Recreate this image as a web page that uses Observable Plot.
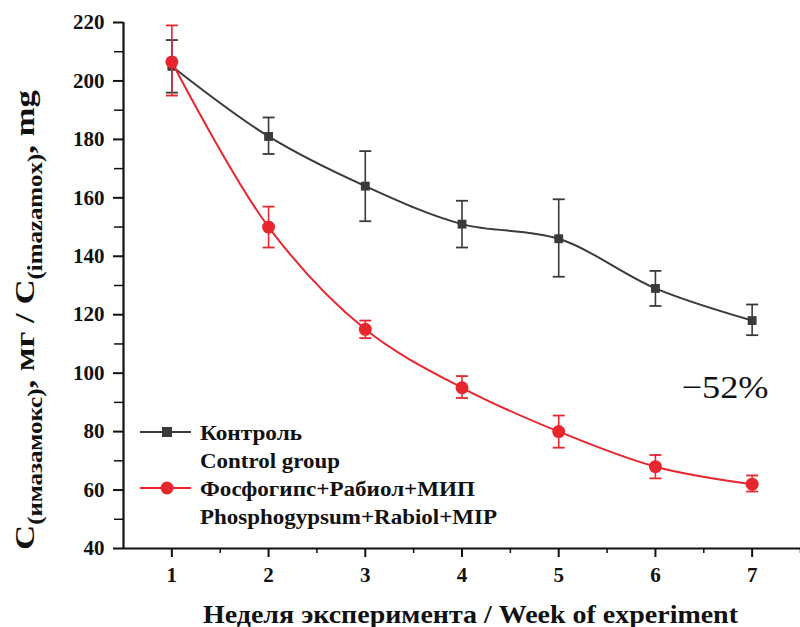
<!DOCTYPE html>
<html><head><meta charset="utf-8">
<script src="https://cdn.jsdelivr.net/npm/d3@7"></script>
<script src="https://cdn.jsdelivr.net/npm/@observablehq/plot@0.6"></script>
<style>
body{margin:0;background:#fff;}
#chart{position:relative;width:800px;height:627px;}
</style></head><body><div id="chart"></div>
<script>
const weeks = [1, 2, 3, 4, 5, 6, 7];
const controlMean = [205, 181, 164, 151, 146, 129, 118];
const controlLow  = [196, 175, 152, 143, 133, 123, 113];
const controlHigh = [214, 187.5, 176, 159, 159.5, 135, 123.5];
const treatMean = [206.5, 150, 115, 95, 80, 68, 62];
const treatLow  = [195, 143, 112, 91.5, 74.5, 64, 59.5];
const treatHigh = [219, 157, 118, 99, 85.5, 72, 65];
const yTicks = [40, 60, 80, 100, 120, 140, 160, 180, 200, 220];
const yMinor = [50, 70, 90, 110, 130, 150, 170, 190, 210];
const xTicks = [1, 2, 3, 4, 5, 6, 7];
const xMinor = [1.5, 2.5, 3.5, 4.5, 5.5, 6.5, 7.5];
const seriesLabels = [["Контроль", "Control group"], ["Фосфогипс+Рабиол+МИП", "Phosphogypsum+Rabiol+MIP"]];
const annotation = [{week: 6.72, value: 95, label: "−52%"}];
const xTitle = "Неделя эксперимента / Week of experiment";

const GRAY = "#3a3a3a", RED = "#e8262e";
const control = weeks.map((w, i) => ({week: w, mean: controlMean[i], low: controlLow[i], high: controlHigh[i]}));
const treat = weeks.map((w, i) => ({week: w, mean: treatMean[i], low: treatLow[i], high: treatHigh[i]}));

const cap = {draw(ctx) { ctx.moveTo(-6, 0); ctx.lineTo(6, 0); }};

function seriesMarks(data, color, symbol, r) {
  return [
    Plot.ruleX(data, {x: "week", y1: "low", y2: "high", stroke: color, strokeWidth: 1.6}),
    Plot.dot(data, {x: "week", y: "low", symbol: cap, stroke: color, strokeWidth: 1.8, fill: "none"}),
    Plot.dot(data, {x: "week", y: "high", symbol: cap, stroke: color, strokeWidth: 1.8, fill: "none"}),
    Plot.line(data, {x: "week", y: "mean", curve: "catmull-rom", stroke: color, strokeWidth: 2}),
    Plot.dot(data, {x: "week", y: "mean", symbol, r, fill: color, stroke: "none"})
  ];
}

const font = "'Liberation Serif', 'Times New Roman', serif";
const plot = Plot.plot({
  width: 800, height: 627,
  marginLeft: 123, marginRight: 0, marginTop: 22, marginBottom: 79,
  style: {fontFamily: font, color: "#111", background: "#fff"},
  x: {domain: [0.5, 7.5]},
  y: {domain: [40, 220]},
  marks: [
    Plot.axisY({ticks: yTicks, tickSize: 10, tickPadding: 9, fontSize: 21, fontWeight: "bold", label: null, strokeWidth: 2, fontFamily: font}),
    Plot.axisY({ticks: yMinor, tickSize: 9, text: null, label: null, strokeWidth: 1.5}),
    Plot.axisX({ticks: xTicks, tickFormat: "d", tickSize: 9, tickPadding: 10, fontSize: 21, fontWeight: "bold", label: null, strokeWidth: 2, fontFamily: font}),
    Plot.axisX({ticks: xMinor, tickSize: 5, text: null, label: null, strokeWidth: 1.5}),
    Plot.ruleX([0.5], {stroke: "#111", strokeWidth: 2.2}),
    Plot.ruleY([40], {stroke: "#111", strokeWidth: 2.2}),
    ...seriesMarks(control, GRAY, "square", 5),
    ...seriesMarks(treat, RED, "circle", 6.5),
    Plot.text(annotation, {x: "week", y: "value", text: "label", fontSize: 32, fontFamily: font, fill: "#111"})
  ]
});
document.getElementById("chart").appendChild(plot);

const svg = d3.select(plot);
// stretch the annotation to the reference width
svg.selectAll("text").filter(function() { return this.textContent === annotation[0].label; })
  .attr("textLength", 87).attr("lengthAdjust", "spacingAndGlyphs");

// y-axis title with subscripts
const yl = svg.append("text")
  .attr("transform", "translate(34,320) rotate(-90)")
  .attr("text-anchor", "middle")
  .attr("textLength", 460).attr("lengthAdjust", "spacingAndGlyphs")
  .style("font-family", font).attr("font-weight", "bold").attr("font-size", 28).attr("fill", "#111");
yl.append("tspan").text("C");
yl.append("tspan").attr("font-size", 20).attr("dy", 8).text("(имазамокс)");
yl.append("tspan").attr("dy", -8).text(", мг / C");
yl.append("tspan").attr("font-size", 20).attr("dy", 8).text("(imazamox)");
yl.append("tspan").attr("dy", -8).text(", mg");

// x-axis title
svg.append("text").attr("x", 203).attr("y", 623).attr("text-anchor", "start")
  .attr("textLength", 535).attr("lengthAdjust", "spacingAndGlyphs")
  .style("font-family", font).attr("font-weight", "bold").attr("font-size", 25).attr("fill", "#111")
  .text(xTitle);

// legend
const lg = svg.append("g").style("font-family", font).attr("font-weight", "bold").attr("font-size", 22)
  .attr("fill", "#111").attr("text-anchor", "start");
const rows = [{c: GRAY, sym: "square", y: 432, w: [102, 140]}, {c: RED, sym: "circle", y: 488, w: [275, 297]}];
rows.forEach((r, i) => {
  lg.append("line").attr("x1", 140).attr("x2", 191).attr("y1", r.y).attr("y2", r.y).attr("stroke", r.c).attr("stroke-width", 2);
  if (r.sym === "square") lg.append("rect").attr("x", 162).attr("y", r.y - 5).attr("width", 10).attr("height", 10).attr("fill", r.c);
  else lg.append("circle").attr("cx", 167).attr("cy", r.y).attr("r", 6.5).attr("fill", r.c);
  lg.append("text").attr("x", 200).attr("y", r.y).attr("dy", "0.35em")
    .attr("textLength", r.w[0]).attr("lengthAdjust", "spacingAndGlyphs").text(seriesLabels[i][0]);
  lg.append("text").attr("x", 200).attr("y", r.y + 28).attr("dy", "0.35em")
    .attr("textLength", r.w[1]).attr("lengthAdjust", "spacingAndGlyphs").text(seriesLabels[i][1]);
});
</script></body></html>
